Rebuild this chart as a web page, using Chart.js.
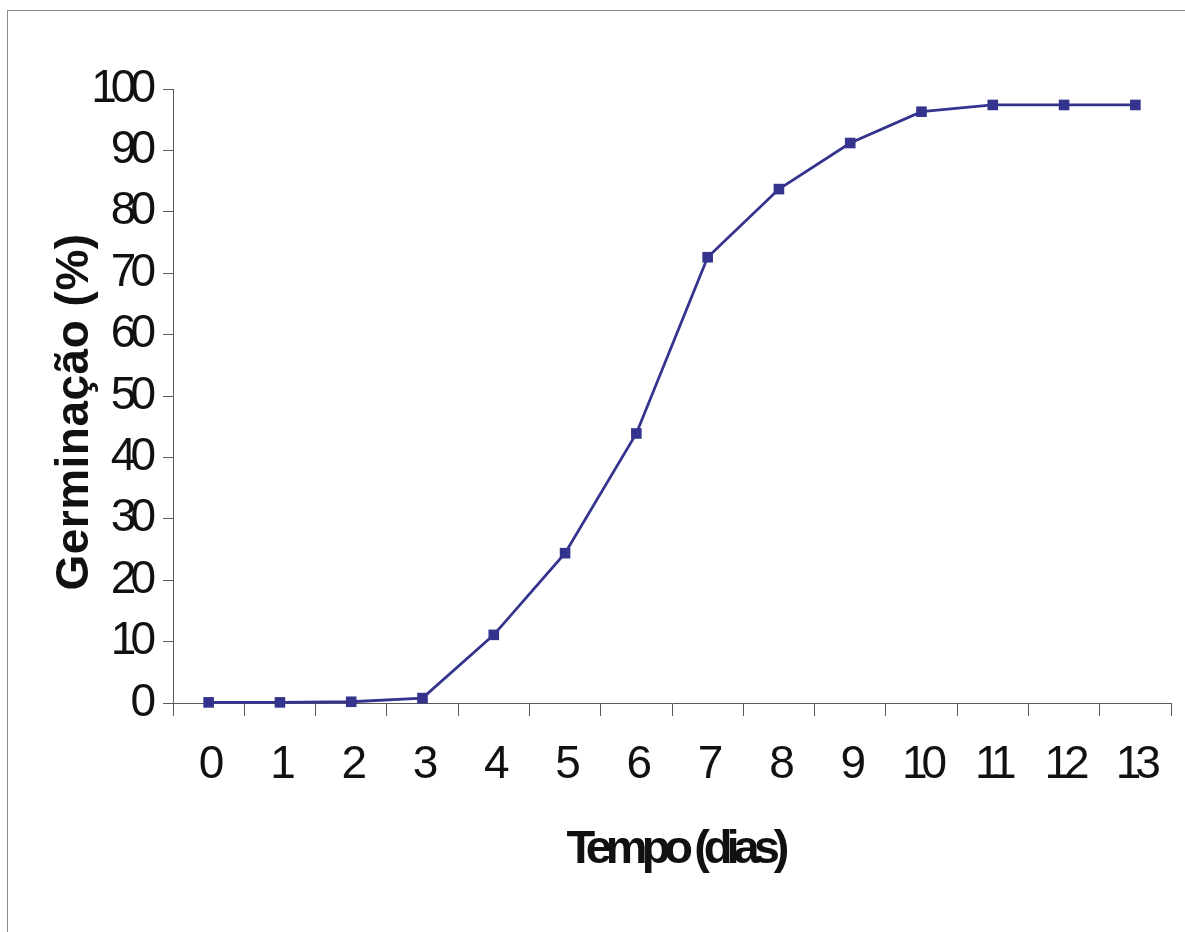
<!DOCTYPE html>
<html>
<head>
<meta charset="utf-8">
<script src="https://cdn.jsdelivr.net/npm/chart.js@4.4.1/dist/chart.umd.min.js"></script>
<style>
  html, body { margin: 0; padding: 0; background: #fff; }
  #wrap { position: relative; width: 1185px; height: 932px; overflow: hidden; }
  #frame { position: absolute; left: 7px; top: 10px; width: 1200px; height: 960px; border: 1px solid #8c8c8c; }
  canvas { position: absolute; left: 0; top: 0; }
</style>
</head>
<body>
<div id="wrap">
  <div id="frame"></div>
  <canvas id="germChart" width="1185" height="932"></canvas>
</div>
<script>
// data
const days = ['0', '1', '2', '3', '4', '5', '6', '7', '8', '9', '10', '11', '12', '13'];
const germination = [0.1, 0.1, 0.2, 0.8, 11.1, 24.4, 43.9, 72.6, 83.7, 91.2, 96.3, 97.4, 97.4, 97.4];
const yTicks = [0, 10, 20, 30, 40, 50, 60, 70, 80, 90, 100];
const xTitle = 'Tempo (dias)';
const yTitle = 'Germinação (%)';

const lineColor = '#34348e';
const textColor = '#111111';
const axisColor = '#5a5a5a';
const fontFamily = '"Liberation Sans", Arial, sans-serif';

// tight tick text like the original, and the two axis titles
const tightText = {
    id: 'tightText',
    beforeDraw(chart) {
        chart.ctx.letterSpacing = '-6px';
    },
    afterDraw(chart) {
        const ctx = chart.ctx;
        const xs = chart.scales.x;
        const ys = chart.scales.y;
        ctx.save();
        ctx.fillStyle = textColor;
        ctx.textAlign = 'center';
        ctx.textBaseline = 'middle';

        ctx.letterSpacing = '-6px';
        ctx.font = 'bold 47px ' + fontFamily;
        ctx.fillText(xTitle, (xs.left + xs.right) / 2 + 3, xs.top + 147);

        ctx.letterSpacing = '0.5px';
        ctx.font = 'bold 46px ' + fontFamily;
        ctx.translate(ys.left + 75, (ys.top + ys.bottom) / 2 + 16);
        ctx.rotate(-Math.PI / 2);
        ctx.fillText(yTitle, 0, 0);
        ctx.restore();
        ctx.letterSpacing = '-6px';
    }
};

const ctx = document.getElementById('germChart').getContext('2d');
window.myChart = new Chart(ctx, {
    type: 'line',
    data: {
        labels: days,
        datasets: [{
            data: germination,
            borderColor: lineColor,
            backgroundColor: lineColor,
            borderWidth: 2.8,
            tension: 0,
            pointStyle: 'rect',
            pointRadius: 7.5,
            pointBorderWidth: 0,
            pointBackgroundColor: lineColor,
            clip: false
        }]
    },
    options: {
        responsive: false,
        animation: false,
        layout: {
            padding: { left: 0, top: 89, right: 14, bottom: 0 }
        },
        plugins: {
            legend: { display: false },
            tooltip: { enabled: false }
        },
        scales: {
            x: {
                type: 'category',
                offset: true,
                grid: {
                    offset: true,
                    drawOnChartArea: false,
                    drawTicks: true,
                    tickLength: 13,
                    color: axisColor
                },
                border: { color: axisColor, width: 1 },
                ticks: {
                    autoSkip: false,
                    maxRotation: 0,
                    padding: 22,
                    color: textColor,
                    font: { family: fontFamily, size: 46 }
                },
                afterFit(scale) {
                    scale.height = 229;
                }
            },
            y: {
                min: 0,
                max: 100,
                grid: {
                    drawOnChartArea: false,
                    drawTicks: true,
                    tickLength: 10,
                    color: axisColor
                },
                border: { color: axisColor, width: 1 },
                ticks: {
                    padding: 13,
                    color: textColor,
                    font: { family: fontFamily, size: 46 }
                },
                afterBuildTicks(scale) {
                    scale.ticks = yTicks.map(v => ({ value: v }));
                },
                afterFit(scale) {
                    scale.width = 173;
                }
            }
        }
    },
    plugins: [tightText]
});
</script>
</body>
</html>
